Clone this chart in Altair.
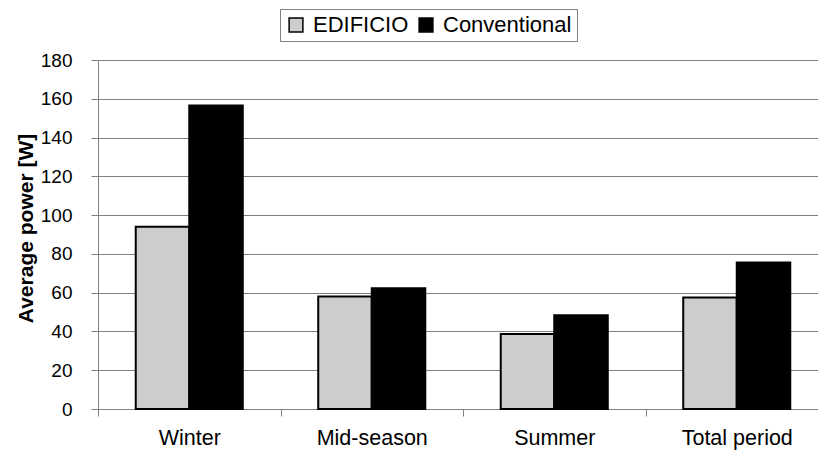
import altair as alt
import pandas as pd

categories = ["Winter", "Mid-season", "Summer", "Total period"]
series = ["EDIFICIO", "Conventional"]
edificio = [94, 58, 38.7, 57.5]
conventional = [156.5, 62.3, 48.4, 75.5]

rows = []
for i, c in enumerate(categories):
    rows.append({"period": c, "system": series[0], "power": edificio[i]})
    rows.append({"period": c, "system": series[1], "power": conventional[i]})
df = pd.DataFrame(rows)

FONT = "Liberation Sans"

bars = alt.Chart(df).mark_bar(stroke="black", strokeWidth=2).encode(
    x=alt.X(
        "period:N",
        sort=categories,
        scale=alt.Scale(domain=categories, range=[0, 730], paddingInner=0, paddingOuter=0),
        axis=alt.Axis(
            title=None,
            labelAngle=0,
            tickBand="extent",
            tickSize=7,
            tickColor="#808080",
            domainColor="#808080",
            labelFontSize=21.5,
            labelFont=FONT,
            labelColor="black",
            labelBaseline="alphabetic",
            labelPadding=28,
        ),
    ),
    xOffset=alt.XOffset(
        "system:N",
        scale=alt.Scale(domain=series, paddingInner=0, paddingOuter=0.705),
    ),
    y=alt.Y(
        "power:Q",
        scale=alt.Scale(domain=[0, 180], nice=False),
        axis=alt.Axis(
            title="Average power [W]",
            values=[0, 20, 40, 60, 80, 100, 120, 140, 160, 180],
            tickSize=7,
            tickColor="#808080",
            domainColor="#808080",
            gridColor="#808080",
            gridOpacity=1,
            labelFontSize=19,
            labelFont=FONT,
            labelColor="black",
            labelPadding=19,
            titleFont=FONT,
            titleFontSize=21,
            titleFontWeight="bold",
            titleColor="black",
            titleAngle=270,
            titleAlign="center",
            titleBaseline="alphabetic",
            titleX=-66,
            titleY=168,
        ),
    ),
    color=alt.Color(
        "system:N",
        scale=alt.Scale(domain=series, range=["#cdcdcd", "#000000"]),
        legend=alt.Legend(
            title=None,
            orient="none",
            legendX=182,
            legendY=-51,
            direction="horizontal",
            symbolType="square",
            symbolSize=190,
            symbolStrokeColor="black",
            symbolStrokeWidth=1.5,
            symbolOpacity=1,
            labelFontSize=22,
            labelFont=FONT,
            labelColor="black",
            labelOffset=6,
            columnPadding=6,
            padding=5,
            strokeColor="#808080",
            fillColor="white",
        ),
    ),
)

chart = bars.properties(
    width=720,
    height=349,
    autosize=alt.AutoSizeParams(type="none"),
    padding={"left": 98, "top": 60, "right": 0, "bottom": 42},
).configure_view(stroke=None).configure(background="white")

chart.save("out.html", embed_options={"renderer": "svg", "actions": False})
